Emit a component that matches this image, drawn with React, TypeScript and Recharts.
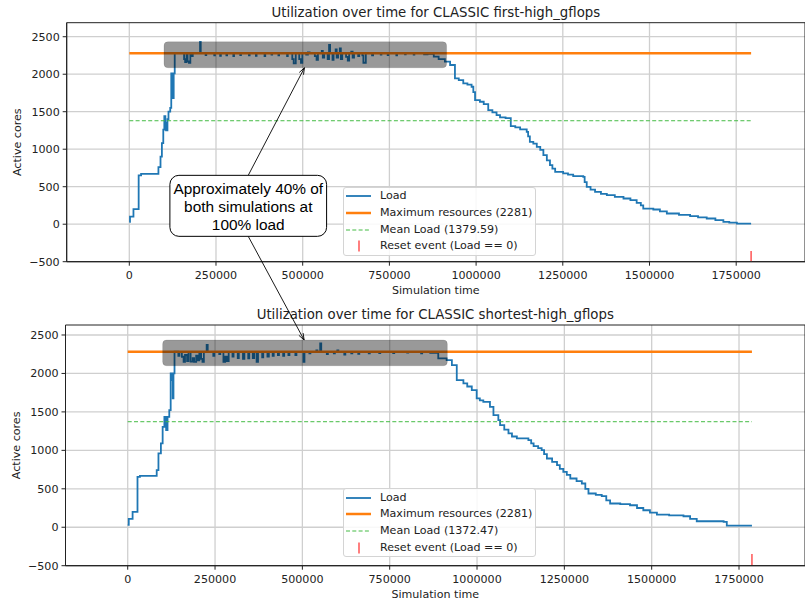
import React from 'react';
import { ComposedChart, Line, XAxis, YAxis, CartesianGrid, ReferenceArea, Scatter } from 'recharts';

// ---------- data ----------
const xTicks = [0, 250000, 500000, 750000, 1000000, 1250000, 1500000, 1750000];
const yTicks = [-500, 0, 500, 1000, 1500, 2000, 2500];

const titles = [
  'Utilization over time for CLASSIC first-high_gflops',
  'Utilization over time for CLASSIC shortest-high_gflops',
];

const maxResources = 2281;
const meanLoads = [1379.59, 1372.47];
const endTimes = [1793000, 1787000];
const resetMarkerY = [-430, -420];

const topTimes = [
  0, 2000, 12000, 27000, 34000, 84000, 90000, 94000, 98000, 101000, 104000, 106000, 110000, 113000, 118000,
  121000, 124000, 126000, 128000, 131000,
  140000, 158000, 161000, 165000, 168000, 172000, 176000, 180000, 183000, 204000, 206000, 220000, 222000,
  245000, 247000, 262000, 264000, 280000, 282000, 300000, 302000, 320000, 322000, 345000, 347000, 365000,
  367000, 390000, 392000, 410000, 412000, 430000, 432000, 455000, 457000, 470000, 474000, 480000, 490000,
  495000, 499000, 510000, 515000, 520000, 535000, 540000, 544000, 555000, 558000, 562000, 572000, 576000,
  579000, 586000, 589000, 595000, 598000, 602000, 607000, 610000, 614000, 625000, 630000, 634000, 640000,
  644000, 648000, 660000, 663000, 672000, 675000, 682000, 700000, 703000, 725000, 727000, 745000, 747000,
  770000, 772000, 795000, 797000, 820000, 822000, 850000, 860000, 878000, 892000, 910000,
  925000, 939000, 950000, 963000, 975000, 987000, 992000, 997000, 1011000, 1022000, 1035000, 1047000,
  1059000, 1069000, 1085000, 1100000, 1113000, 1127000, 1146000, 1150000, 1155000, 1165000, 1175000,
  1185000, 1194000, 1204000, 1213000, 1220000, 1228000, 1251000, 1265000, 1280000, 1309000, 1313000,
  1319000, 1330000, 1343000, 1360000, 1377000, 1400000, 1425000, 1445000, 1463000, 1475000, 1482000,
  1511000, 1530000, 1550000, 1585000, 1617000, 1640000, 1665000, 1690000, 1713000, 1730000, 1752000, 1793000,
];
const topLoads = [
  30, 100, 200, 650, 670, 760, 900, 1080, 1260, 1440, 1350, 1250, 1400, 1500, 1550,
  2010, 1920, 1680, 2010, 2280,
  2281, 2200, 2160, 2281, 2170, 2150, 2281, 2240, 2281, 2430, 2281, 2255, 2281,
  2250, 2281, 2245, 2281, 2250, 2281, 2240, 2281, 2255, 2281, 2250, 2281, 2245,
  2281, 2240, 2281, 2260, 2281, 2250, 2281, 2240, 2281, 2200, 2145, 2281, 2200,
  2150, 2281, 2260, 2290, 2281, 2240, 2190, 2281, 2310, 2220, 2281, 2200, 2390,
  2281, 2190, 2281, 2330, 2220, 2281, 2345, 2200, 2281, 2230, 2180, 2281, 2300,
  2220, 2281, 2240, 2281, 2250, 2153, 2281, 2250, 2281, 2260, 2281, 2255, 2281,
  2250, 2281, 2265, 2281, 2260, 2281, 2265, 2270, 2234, 2200, 2167,
  2123, 1945, 1920, 1878, 1860, 1833, 1760, 1655, 1633, 1600, 1522, 1490,
  1455, 1424, 1415, 1308, 1290, 1264, 1232, 1170, 1099, 1075, 1032,
  990, 921, 850, 788, 740, 698, 677, 660, 641, 632, 560,
  498, 460, 431, 405, 387, 365, 343, 320, 284, 250, 209,
  196, 170, 143, 125, 107, 90, 76, 55, 31, 20, 9, 9,
];

const bottomTimes = [
  0, 3000, 14000, 28000, 35000, 83000, 88000, 95000, 100000, 105000, 110000, 114000, 119000, 123000, 127000,
  129000, 131000, 134000,
  145000, 148000, 155000, 160000, 164000, 170000, 174000, 180000, 186000, 190000, 196000, 200000, 205000,
  210000, 214000, 218000, 226000, 229000, 245000, 248000, 262000, 265000, 274000, 279000, 284000, 289000,
  300000, 303000, 315000, 318000, 330000, 334000, 345000, 348000, 358000, 362000, 369000, 373000, 385000,
  388000, 400000, 404000, 415000, 418000, 430000, 433000, 445000, 448000, 460000, 463000, 480000, 483000,
  503000, 506000, 520000, 523000, 540000, 543000, 551000, 554000, 570000, 573000, 590000, 593000, 600000,
  603000, 620000, 623000, 640000, 643000, 660000, 663000, 690000, 693000, 720000, 723000, 760000, 763000,
  800000, 803000, 840000, 843000, 866000, 889000, 913000,
  928000, 942000, 961000, 972000, 985000, 999000, 1008000, 1018000, 1037000, 1047000, 1061000, 1066000,
  1078000, 1090000, 1100000, 1114000, 1147000, 1155000, 1162000, 1175000, 1185000, 1192000, 1200000,
  1215000, 1229000, 1237000, 1247000, 1257000, 1267000, 1285000, 1300000, 1310000, 1319000, 1340000,
  1357000, 1370000, 1381000, 1410000, 1438000, 1458000, 1476000, 1495000, 1515000, 1550000, 1591000,
  1610000, 1629000, 1706000, 1715000, 1787000,
];
const bottomLoads = [
  30, 110, 200, 655, 668, 742, 960, 1090, 1306, 1436, 1263, 1436, 1523, 2001, 1914,
  1676, 2001, 2282,
  2230, 2281, 2217, 2150, 2240, 2160, 2281, 2155, 2200, 2150, 2230, 2170, 2281,
  2190, 2150, 2281, 2370, 2281, 2230, 2281, 2250, 2281, 2150, 2220, 2160, 2281,
  2220, 2281, 2200, 2281, 2190, 2281, 2196, 2281, 2200, 2281, 2150, 2281, 2210,
  2281, 2220, 2281, 2230, 2281, 2240, 2281, 2230, 2281, 2240, 2281, 2240, 2281,
  2150, 2281, 2260, 2281, 2300, 2281, 2392, 2281, 2250, 2281, 2260, 2281, 2300,
  2281, 2245, 2281, 2260, 2281, 2255, 2281, 2260, 2281, 2265, 2281, 2265, 2281,
  2270, 2281, 2260, 2281, 2269, 2196, 2174,
  2109, 1914, 1871, 1830, 1784, 1676, 1650, 1631, 1566, 1458, 1393, 1328,
  1270, 1220, 1180, 1155, 1133, 1090, 1055, 1030, 1002, 950, 894,
  850, 807, 760, 720, 680, 634, 600, 569, 500, 439, 420,
  404, 350, 309, 300, 286, 250, 221, 190, 165, 155, 143,
  110, 78, 69, 20, 20,
];

// highlighted region [x1, x2, y1, y2]
const highlightTop = [100000, 915000, 2086, 2433];
const highlightBottom = [100000, 915000, 2100, 2435];

const annotationLines = ['Approximately 40% of', 'both simulations at', '100% load'];
const annotationAnchor = [343000, 245]; // data coords in the upper chart
const arrowTarget = 505000;

// ---------- layout ----------
const COLORS = { load: '#1f77b4', max: '#ff7f0e', mean: '#44bb44', reset: '#ff5555', grid: '#cfcfcf', ink: '#222' };
const FONT = 'DejaVu Sans, sans-serif';

const G = [
  { top: 0, h: 300, mTop: 22.7, left: 66.7, right: 805, xAxisH: 38.3, x: [-180500, 1948400], y: [-500, 2687] },
  { top: 300, h: 301, mTop: 25, left: 65.5, right: 805, xAxisH: 35.3, x: [-178100, 1938900], y: [-500, 2630] },
];

function plotBottom(g) { return g.top + g.h - g.xAxisH; }
function px(g, v) { return g.left + ((v - g.x[0]) / (g.x[1] - g.x[0])) * (g.right - g.left); }
function py(g, v) {
  const t = g.top + g.mTop; const b = plotBottom(g);
  return b - ((v - g.y[0]) / (g.y[1] - g.y[0])) * (b - t);
}

const fmt = (v: number) => (v < 0 ? '\u2212' + Math.abs(v) : String(v));

function toRows(ts: number[], vs: number[]) {
  return ts.map((t, i) => ({ t, v: vs[i] }));
}

const ResetShape = (p: any) => (
  <line x1={p.cx} x2={p.cx} y1={p.cy - 5.5} y2={p.cy + 5.5} stroke={COLORS.reset} strokeWidth={1.5} />
);

function Legend({ top, mean }: { top: number; mean: number }) {
  const rows = [
    { label: 'Load', icon: <line x1={0} x2={25} y1={8} y2={8} stroke={COLORS.load} strokeWidth={1.8} /> },
    { label: `Maximum resources (${maxResources})`, icon: <line x1={0} x2={25} y1={8} y2={8} stroke={COLORS.max} strokeWidth={2.5} /> },
    { label: `Mean Load (${mean})`, icon: <line x1={0} x2={25} y1={8} y2={8} stroke={COLORS.mean} strokeWidth={1} strokeDasharray="4 2.3" /> },
    { label: 'Reset event (Load == 0)', icon: <line x1={13} x2={13} y1={2.5} y2={13.5} stroke={COLORS.reset} strokeWidth={1.5} /> },
  ];
  return (
    <div style={{ position: 'absolute', left: 343, top, width: 193, height: 69, boxSizing: 'border-box',
      background: 'rgba(255,255,255,0.85)', border: '1px solid #d4d4d4', borderRadius: 3,
      fontFamily: FONT, fontSize: 11.1, color: COLORS.ink }}>
      {rows.map((r, i) => (
        <div key={i} style={{ position: 'absolute', left: 2, top: 0.5 + i * 16.7, height: 16, display: 'flex', alignItems: 'center', whiteSpace: 'nowrap' }}>
          <svg width={26} height={16} style={{ display: 'block' }}>{r.icon}</svg>
          <span style={{ marginLeft: 8, lineHeight: '16px' }}>{r.label}</span>
        </div>
      ))}
    </div>
  );
}

function Chart({ idx }: { idx: number }) {
  const g = G[idx];
  const times = idx === 0 ? topTimes : bottomTimes;
  const loads = idx === 0 ? topLoads : bottomLoads;
  const hl = idx === 0 ? highlightTop : highlightBottom;
  const end = endTimes[idx];
  const loadData = toRows(times, loads);
  const maxData = [{ t: 0, v: maxResources }, { t: end, v: maxResources }];
  const meanData = [{ t: 0, v: meanLoads[idx] }, { t: end, v: meanLoads[idx] }];
  const resetData = [{ t: end, v: resetMarkerY[idx] }];
  const tickStyle = { fontFamily: FONT, fontSize: 11.1, fill: COLORS.ink };
  return (
    <div style={{ position: 'absolute', left: 0, top: g.top }}>
      <ComposedChart width={806} height={g.h} margin={{ top: g.mTop, right: 1, left: 0, bottom: 0 }}>
        <CartesianGrid stroke={COLORS.grid} strokeWidth={1.3} horizontalValues={yTicks} verticalValues={xTicks} />
        <XAxis dataKey="t" type="number" domain={g.x} allowDataOverflow ticks={xTicks} tickFormatter={fmt}
          height={g.xAxisH} tick={tickStyle} tickSize={4} tickMargin={5} stroke={COLORS.ink} interval={0} />
        <YAxis dataKey="v" type="number" domain={g.y} allowDataOverflow ticks={yTicks} tickFormatter={fmt}
          width={g.left} tick={tickStyle} tickSize={4} tickMargin={3} stroke={COLORS.ink} interval={0} />
        <Line data={loadData} dataKey="v" type="stepAfter" stroke={COLORS.load} strokeWidth={1.8} dot={false} isAnimationActive={false} />
        <Line data={maxData} dataKey="v" type="linear" stroke={COLORS.max} strokeWidth={2.5} dot={false} isAnimationActive={false} />
        <Line data={meanData} dataKey="v" type="linear" stroke={COLORS.mean} strokeWidth={1} strokeDasharray="4 2.3" dot={false} isAnimationActive={false} />
        <Scatter data={resetData} dataKey="v" shape={ResetShape} isAnimationActive={false} />
        <ReferenceArea x1={hl[0]} x2={hl[1]} y1={hl[2]} y2={hl[3]} zIndex={700} ifOverflow="visible"
          shape={(p: any) => (
            <rect x={p.x} y={p.y} width={p.width} height={p.height} rx={4} ry={4}
              fill="#000" fillOpacity={0.4} stroke="#000" strokeOpacity={0.1} />
          )} />
        <ReferenceArea x1={g.x[0]} x2={g.x[1]} y1={g.y[0]} y2={g.y[1]} zIndex={800} ifOverflow="visible"
          fill="none" fillOpacity={0} stroke={COLORS.ink} strokeWidth={1} />
      </ComposedChart>
    </div>
  );
}

function Arrow({ x1, y1, x2, y2 }: { x1: number; y1: number; x2: number; y2: number }) {
  const a = Math.atan2(y2 - y1, x2 - x1);
  const L = 7, w = 0.35;
  const p1 = [x2 - L * Math.cos(a - w), y2 - L * Math.sin(a - w)];
  const p2 = [x2 - L * Math.cos(a + w), y2 - L * Math.sin(a + w)];
  return (
    <g stroke="#000" strokeWidth={0.9} fill="none">
      <line x1={x1} y1={y1} x2={x2} y2={y2} />
      <path d={`M${p1[0]},${p1[1]} L${x2},${y2} L${p2[0]},${p2[1]}`} />
    </g>
  );
}

function Overlay() {
  const g0 = G[0], g1 = G[1];
  const cx = px(g0, annotationAnchor[0]);
  const cy = py(g0, annotationAnchor[1]);
  const boxW = 156.7, boxH = 61;
  const bx = cx - boxW / 2, by = cy - boxH / 2;
  const tTop = { x: px(g0, arrowTarget), y: py(g0, highlightTop[2]) };
  const tBot = { x: px(g1, arrowTarget), y: py(g1, highlightBottom[3]) };
  return (
    <svg width={805} height={601} style={{ position: 'absolute', left: 0, top: 0, pointerEvents: 'none' }}>
      {G.map((g, i) => {
        const mid = (g.left + g.right) / 2;
        const pt = g.top + g.mTop, pb = plotBottom(g);
        return (
          <g key={i} fontFamily={FONT} fill={COLORS.ink}>
            <text x={mid} y={pt - 6} textAnchor="middle" fontSize={13.3}>{titles[i]}</text>
            <text x={mid} y={pb + 32} textAnchor="middle" fontSize={11.1}>Simulation time</text>
            <text transform={`translate(${i === 0 ? 21 : 20},${(pt + pb) / 2}) rotate(-90)`} textAnchor="middle" fontSize={11.1}>Active cores</text>
          </g>
        );
      })}
      <Arrow x1={cx} y1={by} x2={tTop.x} y2={tTop.y} />
      <Arrow x1={cx} y1={by + boxH} x2={tBot.x} y2={tBot.y} />
      <rect x={bx} y={by} width={boxW} height={boxH} rx={9} ry={9} fill="#fff" stroke="#000" strokeWidth={1} />
      <g fontFamily="Liberation Sans, Arial, sans-serif" fontSize={15.4} fill="#000" textAnchor="middle">
        {annotationLines.map((l, i) => (
          <text key={i} x={cx} y={by + 19 + i * 18}>{l}</text>
        ))}
      </g>
    </svg>
  );
}

export default function App() {
  return (
    <div style={{ position: 'fixed', left: 0, top: 0, width: 805, height: 601, background: '#fff', overflow: 'hidden' }}>
      <Chart idx={0} />
      <Chart idx={1} />
      <Legend top={186.7} mean={meanLoads[0]} />
      <Legend top={488.3} mean={meanLoads[1]} />
      <Overlay />
    </div>
  );
}
